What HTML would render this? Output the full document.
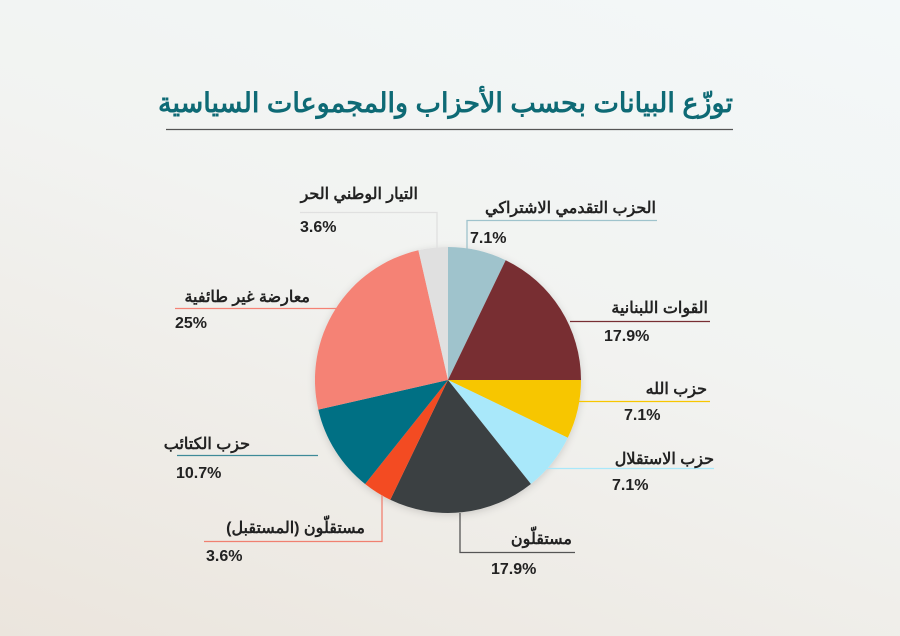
<!DOCTYPE html>
<html><head><meta charset="utf-8"><style>
html,body{margin:0;padding:0}
body{width:900px;height:636px;overflow:hidden;background:linear-gradient(200deg,#f3f8f9 0%,#f2f3f1 45%,#ebe5dd 100%);font-family:"Liberation Sans","Noto Sans CJK SC",sans-serif}
</style></head><body>
<svg width="900" height="636" xmlns="http://www.w3.org/2000/svg" style="position:absolute;left:0;top:0">
<defs><filter id="sh" x="-20%" y="-20%" width="140%" height="140%"><feDropShadow dx="0" dy="2" stdDeviation="4" flood-color="#000" flood-opacity="0.15"/></filter></defs>
<text x="733" y="112" text-anchor="start" font-size="27" font-weight="bold" fill="#0e6a75" direction="rtl">توزّع البيانات بحسب الأحزاب والمجموعات السياسية</text>
<line x1="166" y1="129.5" x2="733" y2="129.5" stroke="#555" stroke-width="1.2"/>
<g filter="url(#sh)">
<path d="M448,380 L448,247 A133,133 0 0 1 505.7,260.2 Z" fill="#9fc3cc"/>
<path d="M448,380 L505.7,260.2 A133,133 0 0 1 581,380 Z" fill="#782e33"/>
<path d="M448,380 L581,380 A133,133 0 0 1 567.8,437.7 Z" fill="#f7c600"/>
<path d="M448,380 L567.8,437.7 A133,133 0 0 1 530.9,484 Z" fill="#a9e8fa"/>
<path d="M448,380 L530.9,484 A133,133 0 0 1 390.3,499.8 Z" fill="#3b3f42"/>
<path d="M448,380 L390.3,499.8 A133,133 0 0 1 365.1,484 Z" fill="#f34b23"/>
<path d="M448,380 L365.1,484 A133,133 0 0 1 318.3,409.6 Z" fill="#006f84"/>
<path d="M448,380 L318.3,409.6 A133,133 0 0 1 418.4,250.3 Z" fill="#f58275"/>
<path d="M448,380 L418.4,250.3 A133,133 0 0 1 448,247 Z" fill="#e0e0e0"/>
</g>
<g fill="none" stroke-width="1.3">
<polyline points="467,252 467,220.5 657,220.5" stroke="#9fc3cc"/>
<polyline points="437,248 437,212.5 300,212.5" stroke="#e0e0e0"/>
<polyline points="570,321.5 710,321.5" stroke="#782e33"/>
<polyline points="578,401.5 710,401.5" stroke="#f7c600"/>
<polyline points="545,468.5 714,468.5" stroke="#a9e8fa"/>
<polyline points="460,513 460,552.5 575,552.5" stroke="#555"/>
<polyline points="382,495 382,541.5 204,541.5" stroke="#f08070"/>
<polyline points="318,455.5 177,455.5" stroke="#3e8a98"/>
<polyline points="340,308.5 175,308.5" stroke="#f58275"/>
</g>
<g font-size="16" font-weight="bold" fill="#222">
<text x="656" y="213" text-anchor="start" direction="rtl">الحزب التقدمي الاشتراكي</text>
<text x="470" y="243">7.1%</text>
<text x="418" y="199" text-anchor="start" direction="rtl">التيار الوطني الحر</text>
<text x="300" y="232">3.6%</text>
<text x="708" y="313" text-anchor="start" direction="rtl">القوات اللبنانية</text>
<text x="604" y="341">17.9%</text>
<text x="707" y="394" text-anchor="start" direction="rtl">حزب الله</text>
<text x="624" y="420">7.1%</text>
<text x="714" y="464" text-anchor="start" direction="rtl">حزب الاستقلال</text>
<text x="612" y="490">7.1%</text>
<text x="572" y="544" text-anchor="start" direction="rtl">مستقلّون</text>
<text x="491" y="574">17.9%</text>
<text x="365" y="533" text-anchor="start" direction="rtl">مستقلّون (المستقبل)</text>
<text x="206" y="561">3.6%</text>
<text x="250" y="449" text-anchor="start" direction="rtl">حزب الكتائب</text>
<text x="176" y="478">10.7%</text>
<text x="310" y="302" text-anchor="start" direction="rtl">معارضة غير طائفية</text>
<text x="175" y="328">25%</text>
</g>
</svg>
</body></html>
